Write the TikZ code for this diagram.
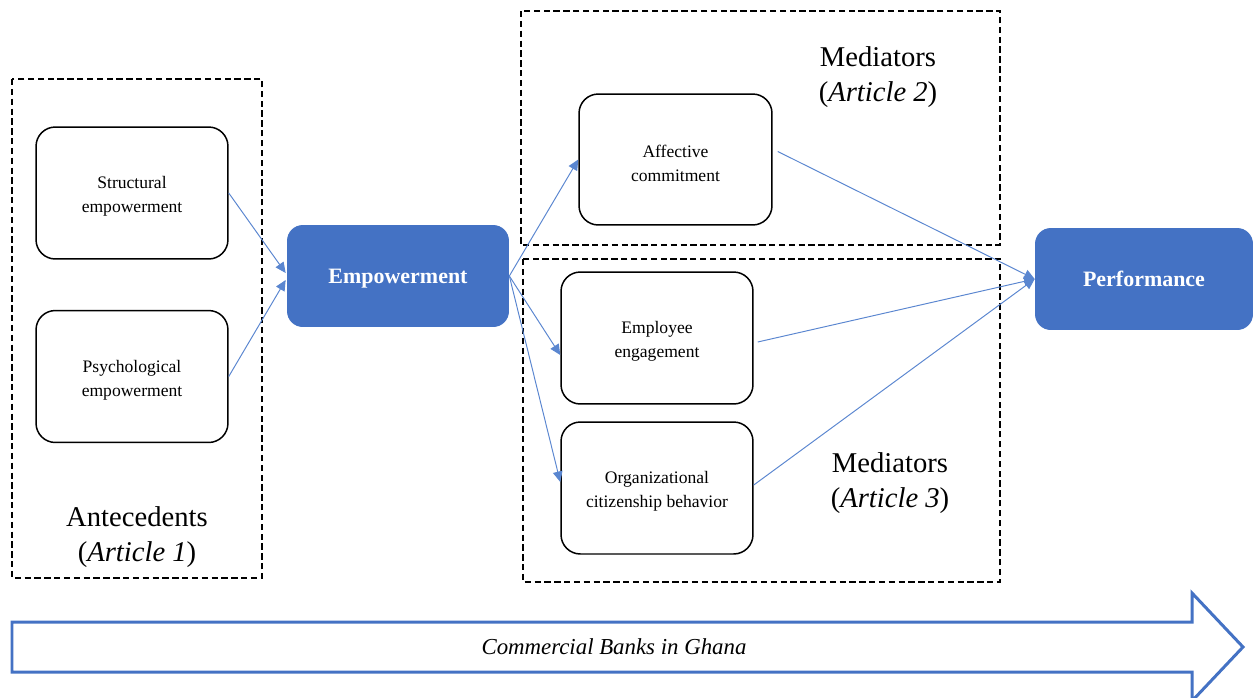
\documentclass[tikz,border=0pt]{standalone}
\usepackage{fontspec}
\setmainfont{Liberation Serif}
\usetikzlibrary{arrows.meta,calc}
\definecolor{accent}{HTML}{4472C4}
\definecolor{linkblue}{HTML}{5A86D0}
\newcommand\boxstrut{\rule{0pt}{11pt}}
\tikzset{
  smallbox/.style={draw=black, line width=0.85pt, rounded corners=11pt, minimum width=3.84cm, minimum height=2.64cm, align=center, font=\fontsize{10}{13.6}\selectfont, inner sep=0pt},
  bluebox/.style={fill=accent, draw=none, rounded corners=9pt, text=white, font=\bfseries\fontsize{12.5}{15}\selectfont, inner sep=0pt, minimum height=2.04cm, text depth=0pt},
  dashbox/.style={draw=black, line width=0.9pt, dash pattern=on 3.6pt off 2pt},
  biglabel/.style={align=center, font=\fontsize{16.3}{20}\selectfont, inner sep=0pt},
  link/.style={draw=linkblue, line width=0.55pt, -{Triangle[length=6pt,width=5.5pt]}},
}
\begin{document}
\begin{tikzpicture}[x=0.02cm, y=-0.02cm]
\clip (0,0) rectangle (1254,697);
\fill[white] (0,0) rectangle (1254,697);

% dashed group frames
\draw[dashbox] (12,79) rectangle (262,578);
\draw[dashbox] (521,11) rectangle (1000,245);
\draw[dashbox] (523,259) rectangle (1000,582);

% group labels
\node[biglabel] (antlab) at (137,537) {Antecedents\\(\textit{Article 1})};
\node[biglabel] (med2lab) at (878,77) {Mediators\\(\textit{Article 2})};
\node[biglabel] (med3lab) at (890,483) {Mediators\\(\textit{Article 3})};

% boxes
\node[smallbox] (struct) at (132,193) {\boxstrut Structural\\empowerment};
\node[smallbox] (psych) at (132,376.5) {\boxstrut Psychological\\empowerment};
\node[bluebox, minimum width=4.44cm] (emp) at (398,276) {Empowerment};
\node[smallbox, minimum width=3.86cm, minimum height=2.62cm] (aff) at (675.5,159.5) {\boxstrut Affective\\commitment};
\node[smallbox] (eng) at (657,338) {\boxstrut Employee\\engagement};
\node[smallbox] (ocb) at (657,488) {\boxstrut Organizational\\citizenship behavior};
\node[bluebox, minimum width=4.36cm] (perf) at (1144,279) {Performance};

% connectors
\draw[link] (struct.east) -- ($(emp.west)+(-1,-3)$);
\draw[link] (psych.east) -- ($(emp.west)+(-1,4)$);
\draw[link] (emp.east) -- (aff.west);
\draw[link] (emp.east) -- ($(eng.west)+(0,17)$);
\draw[link] (emp.east) -- ($(ocb.west)+(0,-6)$);
\draw[link] ($(aff.east)+(5,-8)$) -- (perf.west);
\draw[link] ($(eng.east)+(4,4)$) -- (perf.west);
\draw[link] ($(ocb.east)+(0,-3)$) -- (perf.west);

% big context arrow
\draw[draw=accent, line width=1.7pt, fill=white, line join=miter]
  (12,622) -- (1192,622) -- (1192,593) -- (1243,647) -- (1192,701) -- (1192,672) -- (12,672) -- cycle;
\node[font=\itshape\fontsize{13}{15}\selectfont, inner sep=0pt] (ctx) at (614,647) {Commercial Banks in Ghana};
\end{tikzpicture}
\end{document}
